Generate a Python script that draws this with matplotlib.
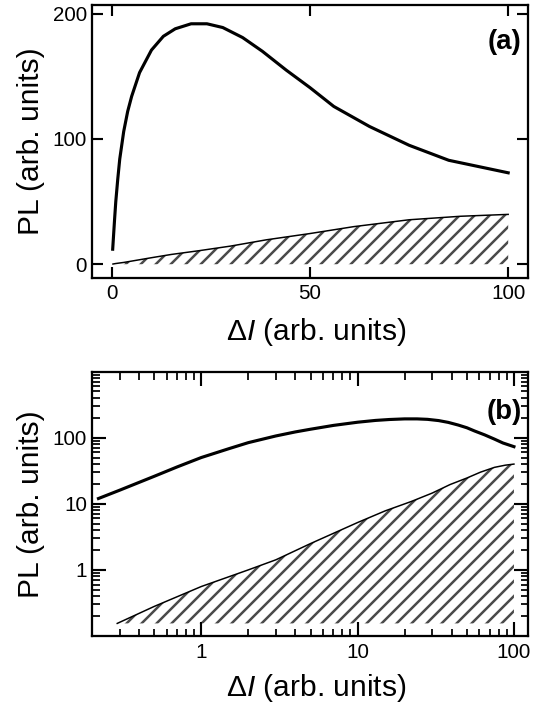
import matplotlib
matplotlib.use("Agg")
import matplotlib.pyplot as plt
from matplotlib.ticker import FixedLocator, FixedFormatter, LogLocator, NullFormatter

plt.rcParams['font.family'] = ['Liberation Sans', 'DejaVu Sans']
plt.rcParams['mathtext.fontset'] = 'custom'
plt.rcParams['mathtext.rm'] = 'Liberation Sans'
plt.rcParams['mathtext.it'] = 'Liberation Sans:italic'
plt.rcParams['hatch.linewidth'] = 2.0

# ---- data ----
pl_x = [0.22, 0.3, 0.5, 0.7, 1, 1.5, 2, 3, 4, 5, 7, 10, 13, 16, 20, 24, 28, 33, 38, 44, 50, 56, 65, 75, 85, 100]
pl_y = [12, 16, 26, 36, 50, 68, 84, 106, 122, 134, 153, 171, 182, 188, 192, 192, 189, 181, 170, 155, 141, 126, 110, 95, 83, 73]

hatch_x = [0.29, 0.5, 1, 2, 3, 5, 10, 15, 22, 30, 39, 50, 61, 75, 88, 100]
hatch_y = [0.155, 0.28, 0.56, 1.0, 1.42, 2.5, 5.2, 7.8, 10.8, 14.5, 19.5, 24.5, 30, 35.5, 38.3, 39.8]

xticks_a = [0, 50, 100]
yticks_a = [0, 100, 200]
xticks_b = [1, 10, 100]
yticks_b = [1, 10, 100]
xlabel = 'Δ$\\mathit{I}$ (arb. units)'
ylabel = 'PL (arb. units)'

DPI = 90
fig = plt.figure(figsize=(537 / DPI, 706 / DPI), dpi=DPI)

W, H = 537, 706
def rect(l, t, r, b):
    return [l / W, 1 - b / H, (r - l) / W, (b - t) / H]

ax1 = fig.add_axes(rect(92, 5, 528, 278))
ax2 = fig.add_axes(rect(92, 371.5, 528, 636))

HCOL = '#4a4a4a'

for ax in (ax1, ax2):
    for s in ax.spines.values():
        s.set_linewidth(1.8)
    ax.tick_params(which='both', direction='in', top=True, right=True,
                   width=1.7, labelsize=16.5, colors='black')

# ---- panel (a) ----
ax1.fill_between(hatch_x, hatch_y, 0, facecolor='none', edgecolor=HCOL,
                 hatch='//', linewidth=0)
ax1.plot(hatch_x, hatch_y, color='black', lw=1.2)
ax1.plot(pl_x, pl_y, color='black', lw=2.5, solid_joinstyle='round')
ax1.set_xlim(-5, 105)
ax1.set_ylim(-11, 207)
ax1.set_xticks(xticks_a)
ax1.set_yticks(yticks_a)
ax1.tick_params(which='major', length=8.5, pad=5)
ax1.tick_params(axis='y', pad=4)
ax1.set_xlabel(xlabel, fontsize=24, labelpad=8)
ax1.xaxis.set_label_coords(0.515, -0.14)
ax1.set_ylabel(ylabel, fontsize=24, labelpad=6)
ax1.text(0.985, 0.864, '(a)', transform=ax1.transAxes, ha='right', va='center',
         fontsize=22, fontweight='bold')

# ---- panel (b) ----
ax2.set_xscale('log')
ax2.set_yscale('log')
ax2.fill_between(hatch_x, hatch_y, hatch_y[0], facecolor='none', edgecolor=HCOL,
                 hatch='//', linewidth=0)
ax2.plot(hatch_x, hatch_y, color='black', lw=1.2)
ax2.plot(pl_x, pl_y, color='black', lw=2.5, solid_joinstyle='round')
ax2.set_xlim(0.2, 123)
ax2.set_ylim(0.1, 1000)
ax2.xaxis.set_major_locator(FixedLocator(xticks_b))
ax2.xaxis.set_major_formatter(FixedFormatter([str(v) for v in xticks_b]))
ax2.yaxis.set_major_locator(FixedLocator(yticks_b))
ax2.yaxis.set_major_formatter(FixedFormatter([str(v) for v in yticks_b]))
ax2.xaxis.set_minor_locator(LogLocator(base=10, subs=range(2, 10), numticks=20))
ax2.yaxis.set_minor_locator(LogLocator(base=10, subs=range(2, 10), numticks=20))
ax2.xaxis.set_minor_formatter(NullFormatter())
ax2.yaxis.set_minor_formatter(NullFormatter())
ax2.tick_params(which='major', length=11, pad=6)
ax2.tick_params(which='minor', length=6, width=1.4)
ax2.tick_params(axis='y', pad=4)
ax2.set_xlabel(xlabel, fontsize=24)
ax2.xaxis.set_label_coords(0.515, -0.135)
ax2.set_ylabel(ylabel, fontsize=24, labelpad=6)
ax2.text(0.985, 0.848, '(b)', transform=ax2.transAxes, ha='right', va='center',
         fontsize=22, fontweight='bold')

fig.savefig('out.png', dpi=DPI)
